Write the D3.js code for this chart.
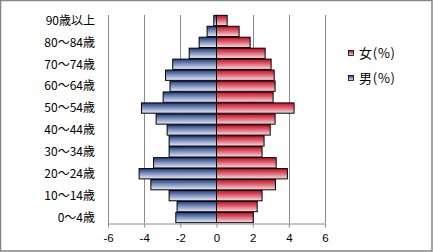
<!DOCTYPE html>
<html>
<head>
<meta charset="utf-8">
<script src="https://cdn.jsdelivr.net/npm/d3@7"></script>
<style>
  body { margin: 0; background: #fff; }
  svg { display: block; font-family: "Noto Sans CJK JP", sans-serif; }
</style>
</head>
<body>
<svg width="433" height="252"></svg>
<script>
// age groups, youngest first
var ages = ["0～4歳", "5～9歳", "10～14歳", "15～19歳", "20～24歳", "25～29歳",
  "30～34歳", "35～39歳", "40～44歳", "45～49歳", "50～54歳", "55～59歳",
  "60～64歳", "65～69歳", "70～74歳", "75～79歳", "80～84歳", "85～89歳", "90歳以上"];
// male shares are negative so they grow to the left
var male = [-2.25, -2.18, -2.62, -3.63, -4.28, -3.48, -2.62, -2.62, -2.73, -3.34,
  -4.15, -2.95, -2.57, -2.82, -2.42, -1.51, -0.96, -0.52, -0.15];
var female = [2.03, 2.25, 2.52, 3.26, 3.92, 3.30, 2.52, 2.63, 2.97, 3.24,
  4.29, 3.13, 3.24, 3.19, 3.02, 2.69, 1.86, 1.25, 0.59];
var xTicks = [-6, -4, -2, 0, 2, 4, 6];
var legendLabels = ["女(%)", "男(%)"];

var svg = d3.select("svg");
var plotL = 108, plotR = 325, plotT = 15, plotB = 223;

var defs = svg.append("defs");
function grad(id, c0, c1, c2) {
  var g = defs.append("linearGradient").attr("id", id)
    .attr("x1", 0).attr("y1", 0).attr("x2", 0).attr("y2", 1);
  g.append("stop").attr("offset", "0%").attr("stop-color", c0);
  g.append("stop").attr("offset", "45%").attr("stop-color", c1);
  g.append("stop").attr("offset", "100%").attr("stop-color", c2);
}
grad("gm", "#1e3b7c", "#7a8dbb", "#e8ecf4");
grad("gf", "#c20c1c", "#dd6172", "#f7e0e5");

// outer border
svg.append("rect").attr("x", 0.5).attr("y", 0.5).attr("width", 431.5).attr("height", 250.5)
  .attr("fill", "#fff").attr("stroke", "#858585").attr("stroke-width", 1.5);

var x = d3.scaleLinear().domain([-6, 6]).range([plotL, plotR]);
var y = d3.scaleBand().domain(ages.slice().reverse()).range([plotT, plotB]).paddingInner(0.06).paddingOuter(0.03);

// grid
svg.append("g").selectAll("line").data(xTicks).enter().append("line")
  .attr("x1", function(d) { return Math.round(x(d)) + 0.5; })
  .attr("x2", function(d) { return Math.round(x(d)) + 0.5; })
  .attr("y1", plotT).attr("y2", plotB)
  .attr("stroke", "#8a8a8a");

// bars
svg.append("g").selectAll("rect").data(male).enter().append("rect")
  .attr("x", function(d) { return x(d); })
  .attr("y", function(d, i) { return y(ages[i]); })
  .attr("width", function(d) { return x(0) - x(d); })
  .attr("height", y.bandwidth())
  .attr("fill", "url(#gm)").attr("stroke", "#000").attr("stroke-width", 1);

svg.append("g").selectAll("rect").data(female).enter().append("rect")
  .attr("x", x(0))
  .attr("y", function(d, i) { return y(ages[i]); })
  .attr("width", function(d) { return x(d) - x(0); })
  .attr("height", y.bandwidth())
  .attr("fill", "url(#gf)").attr("stroke", "#000").attr("stroke-width", 1);

// x axis
var xa = svg.append("g").attr("transform", "translate(0," + (plotB + 0.5) + ")")
  .call(d3.axisBottom(x).tickValues(xTicks).tickSize(4).tickSizeOuter(0).tickPadding(6)
    .tickFormat(function(d) { return String(d); }));
xa.select(".domain").attr("stroke", "#8a8a8a");
xa.selectAll(".tick line").attr("stroke", "#8a8a8a");
xa.selectAll("text").attr("font-size", 11.5).attr("fill", "#000")
  .attr("font-family", "Liberation Sans, Arial, sans-serif");

// y axis line
svg.append("line").attr("x1", plotL + 0.5).attr("x2", plotL + 0.5).attr("y1", plotT).attr("y2", plotB + 1)
  .attr("stroke", "#8a8a8a");

// category labels, every other one
svg.append("g").selectAll("text").data(ages.filter(function(d, i) { return i % 2 == 0; }))
  .enter().append("text")
  .attr("x", 95)
  .attr("y", function(d) { return y(d) + y.bandwidth() / 2; })
  .attr("dy", "0.36em")
  .attr("text-anchor", "end")
  .attr("font-size", 12)
  .text(function(d) { return d; });

// legend
var lg = svg.append("g").selectAll("g").data(legendLabels).enter().append("g")
  .attr("transform", function(d, i) { return "translate(348," + (50 + i * 25) + ")"; });
lg.append("rect").attr("x", 0.5).attr("y", 0.5).attr("width", 5).attr("height", 5)
  .attr("fill", function(d, i) { return i == 0 ? "url(#gf)" : "url(#gm)"; })
  .attr("stroke", "#000").attr("stroke-width", 0.8);
lg.append("text").attr("x", 11).attr("y", 3).attr("dy", "0.36em")
  .attr("font-size", 13)
  .attr("textLength", 36).attr("lengthAdjust", "spacing")
  .text(function(d) { return d; });
</script>
</body>
</html>
